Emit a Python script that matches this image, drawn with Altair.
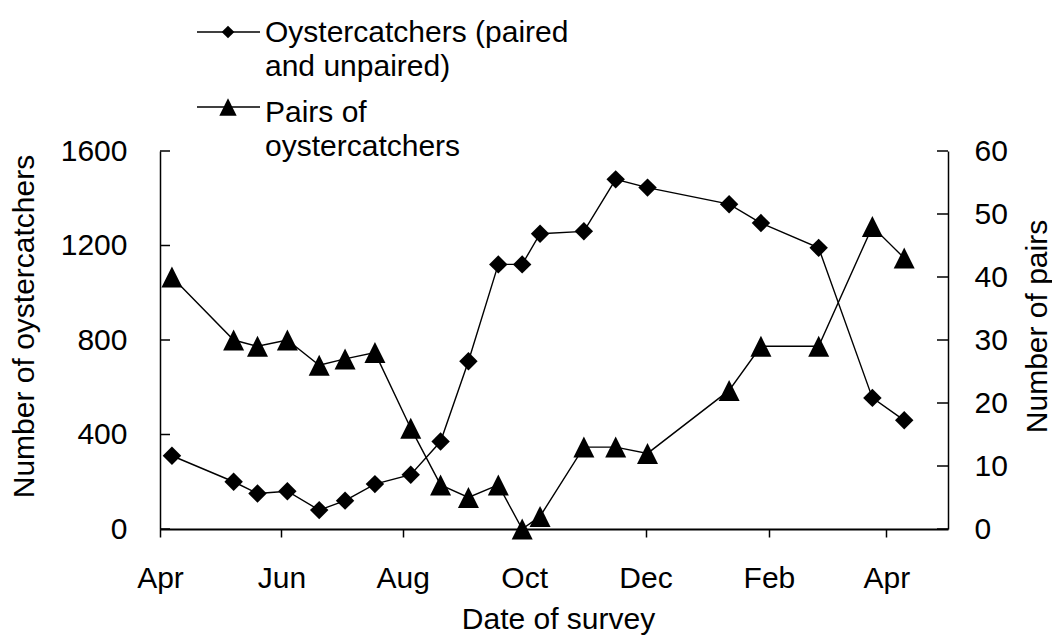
import altair as alt
import pandas as pd

# ---- data ----
survey_dates = [
    "2000-04-07", "2000-05-08", "2000-05-20", "2000-06-04", "2000-06-20",
    "2000-07-03", "2000-07-18", "2000-08-05", "2000-08-20", "2000-09-03",
    "2000-09-18", "2000-09-30", "2000-10-09", "2000-10-31", "2000-11-16",
    "2000-12-02", "2001-01-12", "2001-01-28", "2001-02-26", "2001-03-25",
    "2001-04-10",
]
oystercatchers = [310, 200, 150, 160, 80, 120, 190, 230, 370, 710,
                  1120, 1120, 1250, 1260, 1480, 1445, 1375, 1295, 1190, 555, 460]
pairs = [40, 30, 29, 30, 26, 27, 28, 16, 7, 5,
         7, 0, 2, 13, 13, 12, 22, 29, 29, 48, 43]

left_ticks = [0, 400, 800, 1200, 1600]
right_ticks = [0, 10, 20, 30, 40, 50, 60]
x_tick_months = [(2000, 4), (2000, 6), (2000, 8), (2000, 10), (2000, 12), (2001, 2), (2001, 4)]
series_labels = ["Oystercatchers (paired\nand unpaired)", "Pairs of\noystercatchers"]

FONT = "Liberation Sans"
FS = 30
W, H = 788, 378
TRI = "M0,-1L1,1L-1,1Z"

df = pd.DataFrame({"date": survey_dates, "count": oystercatchers, "pairs": pairs})

x_enc = alt.X(
    "date:T",
    scale=alt.Scale(
        type="utc",
        domain=[alt.DateTime(year=2000, month=4, date=1, utc=True),
                alt.DateTime(year=2001, month=5, date=2, utc=True)],
    ),
    axis=alt.Axis(
        values=[alt.DateTime(year=y, month=m, date=1, utc=True) for y, m in x_tick_months],
        format="%b", tickSize=8, tickWidth=1.5, labelPadding=50,
        labelBaseline="alphabetic", labelFlush=False, labelOverlap=False,
        domainWidth=1.8, title="Date of survey", titleX=398, titleY=99,
        titleBaseline="alphabetic",
    ),
)

left_scale = alt.Scale(domain=[0, 1600], nice=False, zero=True)
right_scale = alt.Scale(domain=[0, 60], nice=False, zero=True)

left_axis = alt.Axis(
    values=left_ticks, format="d", ticks=False, tickSize=0, labelPadding=33, domainWidth=1.5,
    title="Number of oystercatchers", titleAngle=270, titleX=-127, titleY=175,
    titleBaseline="alphabetic", titleAlign="center", labelBaseline="middle",
)
right_axis = alt.Axis(
    orient="right", values=right_ticks, format="d", ticks=False, tickSize=0,
    labelPadding=26, domainWidth=1.5,
    title="Number of pairs", titleAngle=270, titleX=98, titleY=175,
    titleBaseline="alphabetic", titleAlign="center", labelBaseline="middle",
)

base = alt.Chart(df)

count_line = base.mark_line(color="black", strokeWidth=1.4).encode(
    x=x_enc, y=alt.Y("count:Q", scale=left_scale, axis=left_axis))
count_pts = base.mark_point(shape="diamond", filled=True, size=340, color="black", opacity=1).encode(
    x=x_enc, y=alt.Y("count:Q", scale=left_scale, axis=left_axis))
lt = alt.Chart(pd.DataFrame({"v": left_ticks})).mark_rule(color="black", strokeWidth=1.5).encode(
    y=alt.Y("v:Q", scale=left_scale, axis=left_axis), x=alt.value(0), x2=alt.value(10))

pair_line = base.mark_line(color="black", strokeWidth=1.4).encode(
    x=x_enc, y=alt.Y("pairs:Q", scale=right_scale, axis=right_axis))
pair_pts = base.mark_point(shape=TRI, filled=True, size=441, color="black", opacity=1).encode(
    x=x_enc, y=alt.Y("pairs:Q", scale=right_scale, axis=right_axis))
rt = alt.Chart(pd.DataFrame({"v": right_ticks})).mark_rule(color="black", strokeWidth=1.5).encode(
    y=alt.Y("v:Q", scale=right_scale, axis=right_axis), x=alt.value(W - 11), x2=alt.value(W))

left = alt.layer(count_line, count_pts, lt)
right = alt.layer(pair_line, pair_pts, rt)

# ---- manual legend ----
def legend_entry(label, shape, size, y_sym, y_text):
    d = pd.DataFrame({"label": [label]})
    c = alt.Chart(d)
    line = c.mark_rule(color="black", strokeWidth=1.4).encode(
        x=alt.value(37), x2=alt.value(100), y=alt.value(y_sym))
    sym = c.mark_point(shape=shape, filled=True, size=size, color="black", opacity=1).encode(
        x=alt.value(68), y=alt.value(y_sym))
    txt = c.mark_text(align="left", baseline="alphabetic", fontSize=FS, font=FONT,
                      lineBreak="\n", lineHeight=34, color="black").encode(
        x=alt.value(105), y=alt.value(y_text), text="label:N")
    return [line, sym, txt]

leg = legend_entry(series_labels[0], "diamond", 160, -119, -109) + \
      legend_entry(series_labels[1], TRI, 300, -44, -29)

chart = alt.layer(left, right, *leg).resolve_scale(y="independent").properties(
    width=W, height=H,
    autosize=alt.AutoSizeParams(type="none"),
    padding={"left": 152, "top": 143, "right": 104, "bottom": 107},
).configure(font=FONT).configure_view(stroke=None).configure_axis(
    labelFont=FONT, titleFont=FONT, labelFontSize=FS, titleFontSize=FS,
    labelColor="black", titleColor="black", titleFontWeight="normal",
    domainColor="black", tickColor="black", grid=False,
)

chart.save("out.html", embed_options={"renderer": "svg", "actions": False})
